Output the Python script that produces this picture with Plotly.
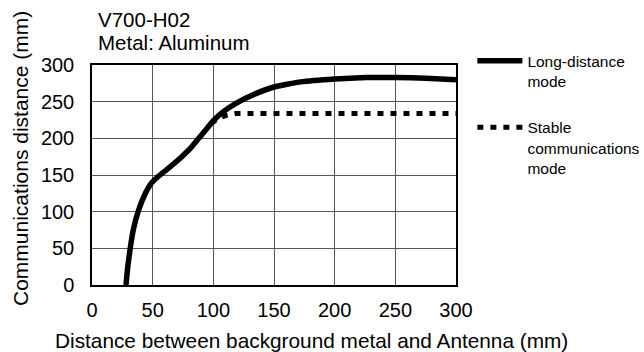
import plotly.graph_objects as go

# Long-distance mode curve
long_x = [28, 29.5, 31.5, 34, 38, 44, 49, 56, 65, 74, 82, 88, 94, 100, 108, 119, 135, 150, 172, 200, 226, 250, 275, 300]
long_y = [0, 25, 50, 75, 100, 125, 139, 150, 162, 175, 188, 200, 212, 224, 236, 248, 261, 270, 277, 281, 283, 283, 282, 280]

# Stable communications mode (branches off the long-distance curve near 100 mm)
stable_x = [98, 104, 110, 119, 150, 200, 250, 300]
stable_y = [220, 227, 231, 234, 234, 234, 234, 234]

x_ticks = [0, 50, 100, 150, 200, 250, 300]
y_ticks = [0, 50, 100, 150, 200, 250, 300]

FONT = "Arial, Liberation Sans, sans-serif"

fig = go.Figure()

fig.add_trace(go.Scatter(x=stable_x, y=stable_y, mode='lines', name='Stable<br>communications<br>mode',
                         line=dict(color='black', width=5, dash='6px,7px'), legend='legend2'))
fig.add_trace(go.Scatter(x=long_x, y=long_y, mode='lines', name='Long-distance<br>mode',
                         line=dict(color='black', width=5.5, shape='spline', smoothing=0.4), legend='legend'))

axis_style = dict(showgrid=True, gridcolor='#555', gridwidth=1, zeroline=False,
                  showline=True, linecolor='black', linewidth=1.5, mirror=True, ticks='',
                  tickfont=dict(family=FONT, size=20, color='black'))

legend_style = dict(xanchor='left', yanchor='top', valign='top', itemwidth=45,
                    font=dict(family=FONT, size=15.5, color='black'), bgcolor='rgba(0,0,0,0)')

fig.update_layout(
    width=644, height=352,
    margin=dict(l=92, r=188, t=65, b=67, autoexpand=False),
    paper_bgcolor='white', plot_bgcolor='white',
    font=dict(family=FONT, color='black'),
    showlegend=True,
    xaxis=dict(range=[0, 300], tickvals=x_ticks, ticklabelstandoff=6, **axis_style),
    yaxis=dict(range=[0, 300], tickvals=y_ticks, ticklabelstandoff=12, **axis_style),
    legend=dict(x=1.045, y=1.095, **legend_style),
    legend2=dict(x=1.045, y=0.792, **legend_style),
    annotations=[
        dict(text='V700-H02', xref='paper', yref='paper', x=0.011, y=1.205, xanchor='left', yanchor='middle',
             showarrow=False, font=dict(size=20.5)),
        dict(text='Metal: Aluminum', xref='paper', yref='paper', x=0.011, y=1.1, xanchor='left', yanchor='middle',
             showarrow=False, font=dict(size=20.5)),
        dict(text='Distance between background metal and Antenna (mm)', xref='paper', yref='paper',
             x=0.604, y=-0.25, xanchor='center', yanchor='middle', showarrow=False, font=dict(size=20.8)),
        dict(text='Communications distance (mm)', xref='paper', yref='paper', textangle=-90,
             x=-0.198, y=0.577, xanchor='center', yanchor='middle', showarrow=False, font=dict(size=21)),
    ],
)

# the page's default body margin would push the figure 8px right and down
fig.write_html("out.html", config={'displayModeBar': False},
               post_script="document.body.style.margin='0';")
